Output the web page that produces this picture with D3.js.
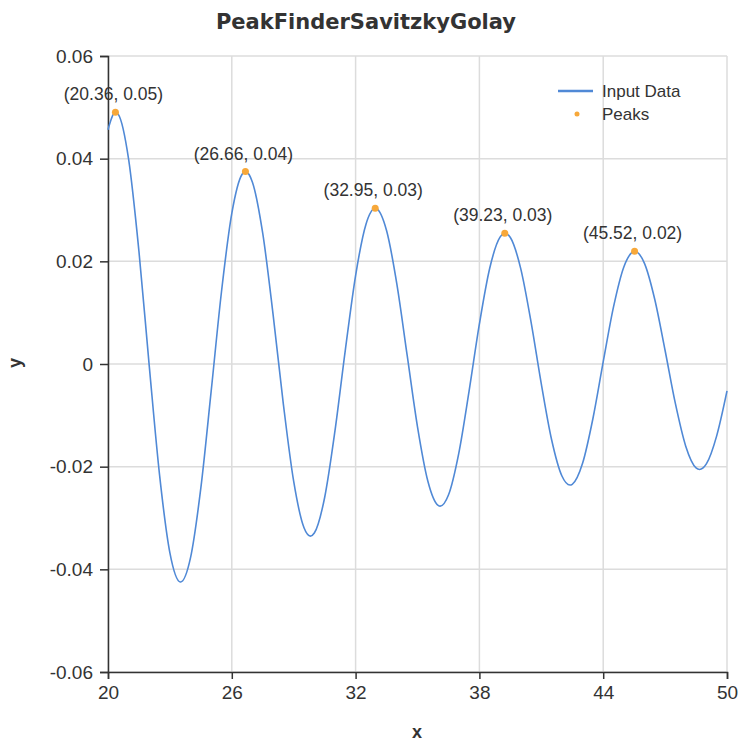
<!DOCTYPE html>
<html>
<head>
<meta charset="utf-8">
<script src="https://cdn.jsdelivr.net/npm/d3@7"></script>
<style>
  html, body { margin: 0; padding: 0; background: #fff; }
  svg { display: block; }
  text { font-family: "Liberation Sans", Arial, sans-serif; fill: #333; }
</style>
</head>
<body>
<svg id="chart" width="738" height="745"></svg>
<script>
// Input signal samples (x, y)
const inputX = [20, 20.36, 20.5, 21, 21.5, 22, 22.5, 23, 23.5, 23.52, 24, 24.5, 25, 25.5, 26, 26.5, 26.66, 27, 27.5, 28, 28.5, 29, 29.5, 29.81, 30, 30.5, 31, 31.5, 32, 32.5, 32.95, 33, 33.5, 34, 34.5, 35, 35.5, 36, 36.1, 36.5, 37, 37.5, 38, 38.5, 39, 39.23, 39.5, 40, 40.5, 41, 41.5, 42, 42.39, 42.5, 43, 43.5, 44, 44.5, 45, 45.5, 45.52, 46, 46.5, 47, 47.5, 48, 48.5, 48.67, 49, 49.5, 50];
const inputY = [0.045647, 0.049033, 0.048626, 0.039841, 0.021937, -0.000402, -0.021652, -0.036792, -0.042472, -0.042479, -0.037732, -0.024137, -0.005294, 0.014081, 0.029329, 0.036957, 0.037483, 0.035421, 0.025427, 0.009675, -0.007851, -0.022884, -0.031899, -0.033526, -0.032934, -0.026004, -0.013033, 0.002666, 0.017232, 0.027196, 0.030335, 0.030300, 0.026004, 0.015561, 0.001666, -0.012234, -0.022789, -0.027549, -0.027690, -0.025526, -0.017393, -0.005275, 0.007799, 0.018649, 0.024713, 0.025482, 0.024649, 0.018628, 0.008251, -0.003869, -0.014760, -0.021822, -0.023585, -0.023437, -0.019344, -0.010662, 0.000402, 0.011121, 0.018909, 0.021947, 0.021963, 0.019604, 0.012563, 0.002629, -0.007733, -0.016005, -0.020229, -0.020541, -0.019464, -0.013998, -0.005248];

// Detected peaks
const peakX = [20.36, 26.66, 32.95, 39.23, 45.52];
const peakY = [0.049033, 0.037483, 0.030335, 0.025482, 0.021963];

// Axis ticks
const xTicks = [20, 26, 32, 38, 44, 50];
const yTicks = [-0.06, -0.04, -0.02, 0, 0.02, 0.04, 0.06];

const seriesNames = ["Input Data", "Peaks"];
const lineColor = "#5089d6";
const peakColor = "#f7a83a";

const svg = d3.select("#chart");
const plotLeft = 108, plotRight = 727, plotTop = 56, plotBottom = 672;

const x = d3.scaleLinear().domain([20, 50]).range([plotLeft, plotRight]);
const y = d3.scaleLinear().domain([-0.06, 0.06]).range([plotBottom, plotTop]);

// Grid
const grid = svg.append("g");
grid.selectAll("line.v").data(xTicks).join("line")
  .attr("x1", d => x(d)).attr("x2", d => x(d))
  .attr("y1", plotTop).attr("y2", plotBottom)
  .attr("stroke", "#dcdcdc").attr("stroke-width", 1.5);
grid.selectAll("line.h").data(yTicks).join("line")
  .attr("y1", d => y(d)).attr("y2", d => y(d))
  .attr("x1", plotLeft).attr("x2", plotRight)
  .attr("stroke", "#dcdcdc").attr("stroke-width", 1.5);

// Axes
const fmtY = d => d === 0 ? "0" : d.toFixed(2);
const xAxis = svg.append("g").attr("transform", `translate(0,${plotBottom})`)
  .call(d3.axisBottom(x).tickValues(xTicks).tickSize(7).tickPadding(5).tickFormat(d3.format("d")));
const yAxis = svg.append("g").attr("transform", `translate(${plotLeft},0)`)
  .call(d3.axisLeft(y).tickValues(yTicks).tickSize(8).tickPadding(7).tickFormat(fmtY));

[xAxis, yAxis].forEach(a => {
  a.attr("font-size", null).attr("font-family", null);
  a.select(".domain").attr("stroke", "#333").attr("stroke-width", 1.5);
  a.selectAll(".tick line").attr("stroke", "#333").attr("stroke-width", 1.5);
  a.selectAll(".tick text").style("font-size", "19px").attr("fill", "#333");
});
xAxis.selectAll(".tick text").attr("dy", "0.8em");

// Line
const pts = inputX.map((v, i) => [v, inputY[i]]);
svg.append("path")
  .datum(pts)
  .attr("fill", "none")
  .attr("stroke", lineColor)
  .attr("stroke-width", 1.6)
  .attr("d", d3.line().x(d => x(d[0])).y(d => y(d[1])).curve(d3.curveMonotoneX));

// Peaks and their labels
const peaks = peakX.map((v, i) => ({ x: v, y: peakY[i] }));
svg.append("g").selectAll("circle").data(peaks).join("circle")
  .attr("cx", d => x(d.x)).attr("cy", d => y(d.y)).attr("r", 3.5)
  .attr("fill", peakColor);
svg.append("g").selectAll("text").data(peaks).join("text")
  .attr("x", d => x(d.x) - 2).attr("y", d => y(d.y) - 12)
  .attr("text-anchor", "middle").style("font-size", "17.5px")
  .text(d => `(${d.x.toFixed(2)}, ${d.y.toFixed(2)})`);

// Title and axis titles
svg.append("text").attr("x", 366).attr("y", 29).attr("text-anchor", "middle")
  .style("font-size", "21px").attr("font-weight", "bold").attr("fill", "#222")
  .style("font-family", '"DejaVu Sans", sans-serif')
  .text("PeakFinderSavitzkyGolay");
svg.append("text").attr("x", 417).attr("y", 738).attr("text-anchor", "middle")
  .style("font-size", "18px").attr("font-weight", "bold").text("x");
svg.append("text").attr("transform", "translate(21,363) rotate(-90)")
  .attr("text-anchor", "middle").style("font-size", "18px").attr("font-weight", "bold").text("y");

// Legend
const lg = svg.append("g");
lg.append("line").attr("x1", 558).attr("x2", 593).attr("y1", 91).attr("y2", 91)
  .attr("stroke", lineColor).attr("stroke-width", 2.5);
lg.append("circle").attr("cx", 577).attr("cy", 114).attr("r", 2.5).attr("fill", peakColor);
lg.selectAll("text").data(seriesNames).join("text")
  .attr("x", 602).attr("y", (d, i) => 91 + i * 23).attr("dy", "0.35em")
  .style("font-size", "17px").text(d => d);
</script>
</body>
</html>
